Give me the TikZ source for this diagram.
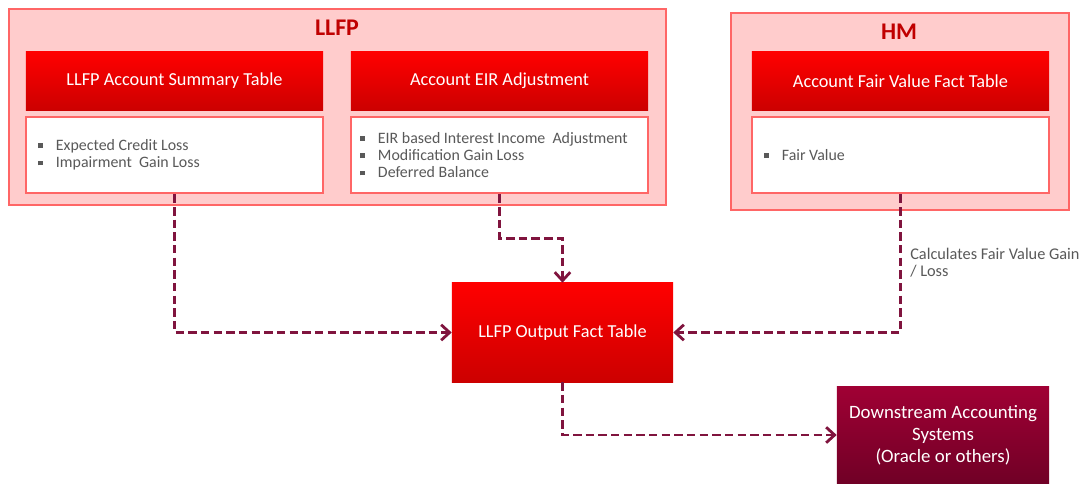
\documentclass[tikz,border=0pt]{standalone}
\usepackage{fontspec}
\setmainfont{Carlito}
\usepackage{tikz}
\usetikzlibrary{arrows.meta,positioning,calc}
\usepackage{xcolor}
\definecolor{grpfill}{RGB}{255,204,204}
\definecolor{grpline}{RGB}{255,102,102}
\definecolor{ttlred}{RGB}{192,0,0}
\definecolor{hdrtop}{RGB}{255,0,0}
\definecolor{hdrbot}{RGB}{204,0,0}
\definecolor{systop}{RGB}{160,0,52}
\definecolor{sysbot}{RGB}{112,0,38}
\definecolor{flowcol}{RGB}{128,20,62}
\definecolor{txtgray}{RGB}{89,89,89}
\newcommand{\sqb}{\raisebox{1.7pt}{\rule{3.4pt}{3.4pt}}\hspace{9.5pt}}

\begin{document}
\begin{tikzpicture}[
  x=0.025cm, y=-0.025cm,
  every node/.style={font=\fontsize{13}{15}\selectfont},
  grp/.style={draw=grpline, line width=1.6pt, fill=grpfill, inner sep=0pt},
  ttl/.style={font=\fontsize{17}{19}\selectfont\bfseries, text=ttlred},
  hdr/.style={top color=hdrtop, bottom color=hdrbot, draw=none, text=white, minimum width=7.425cm, minimum height=1.45cm, align=center},
  lst/.style={draw=grpline, line width=2pt, fill=white, minimum width=7.425cm, minimum height=1.9cm},
  items/.style={font=\fontsize{11.3}{12.3}\selectfont, text=txtgray, align=left, anchor=west, inner sep=0pt},
  outbox/.style={top color=hdrtop, bottom color=hdrbot, draw=none, text=white, minimum width=5.525cm, minimum height=2.475cm, align=center},
  sysbox/.style={top color=systop, bottom color=sysbot, draw=none, text=white, minimum width=5.3cm, minimum height=2.4cm, align=center, font=\fontsize{13.4}{15.5}\selectfont},
  flow/.style={draw=flowcol, line width=2pt, dash pattern=on 6pt off 3pt, -{Straight Barb[length=6pt,width=11pt]}},
  lbl/.style={font=\fontsize{11.6}{12.3}\selectfont, text=txtgray, align=left, inner sep=0pt},
]
\useasboundingbox (0,0) rectangle (1080,485);

% LLFP group
\node[grp, minimum width=16.425cm, minimum height=4.9cm] (llfp) at (337.5,107) {};
\node[ttl] (llfpttl) at (337,28) {LLFP};
\node[hdr] (hdr1) at (174.5,81) {LLFP Account Summary Table};
\node[lst] (lst1) at (174.5,155) {};
\node[items] (it1) at ($(lst1.west)+(13,0)$) {\sqb Expected Credit Loss\\\sqb Impairment\ \ Gain Loss};
\node[hdr] (hdr2) at (499.5,81) {Account EIR Adjustment};
\node[lst] (lst2) at (499.5,155) {};
\node[items] (it2) at ($(lst2.west)+(10,0)$) {\sqb EIR based Interest Income\ \ Adjustment\\\sqb Modification Gain Loss\\\sqb Deferred Balance};

% HM group
\node[grp, minimum width=8.45cm, minimum height=4.925cm] (hm) at (900,111.5) {};
\node[ttl] (hmttl) at (899,32) {HM};
\node[hdr] (hdr3) at (900.5,81) {Account Fair Value Fact Table};
\node[lst] (lst3) at (900.5,155) {};
\node[items] (it3) at ($(lst3.west)+(13,0)$) {\sqb Fair Value};

% output and downstream
\node[outbox] (out) at (562.5,332.5) {LLFP Output Fact Table};
\node[sysbox] (sys) at (943,435) {Downstream Accounting\\Systems\\(Oracle or others)};

\draw[flow] (lst1.south) |- (out.west);
\draw[flow] (lst2.south) -- ++(0,44) -| (out.north);
\draw[flow] (lst3.south) |- (out.east);
\draw[flow] (out.south) |- (sys.west);
\node[lbl, anchor=west] (fvlbl) at (910,263) {Calculates Fair Value Gain\\/ Loss};
\end{tikzpicture}
\end{document}
